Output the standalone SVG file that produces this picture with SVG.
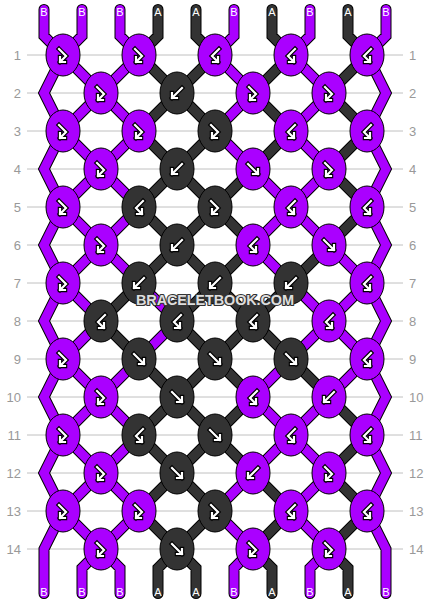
<svg xmlns="http://www.w3.org/2000/svg" xmlns:xlink="http://www.w3.org/1999/xlink" width="430" height="604" viewBox="0 0 430 604">
<style>
.rl{stroke:#c0c0c0;stroke-width:1}
.rn{font-family:"Liberation Sans",Arial,sans-serif;font-size:13px;fill:#999}
.ol{fill:none;stroke:#000;stroke-width:11;stroke-linecap:round;stroke-linejoin:miter}
.pb{fill:none;stroke:#aa00ff;stroke-width:9;stroke-linecap:round;stroke-linejoin:miter}
.pa{fill:none;stroke:#333333;stroke-width:9;stroke-linecap:round;stroke-linejoin:miter}
.kp{fill:#aa00ff;stroke:#000;stroke-width:1}
.kd{fill:#333333;stroke:#000;stroke-width:1}
.ao{fill:none;stroke:#000;stroke-width:4.5;stroke-linecap:square;stroke-linejoin:miter}
.ai{fill:none;stroke:#fff;stroke-width:2.2;stroke-linecap:square;stroke-linejoin:miter}
.sl{font-family:"Liberation Sans",Arial,sans-serif;font-size:11px;fill:#fff;text-anchor:middle}
.wm{font-family:"Liberation Sans",Arial,sans-serif;font-size:14.5px;font-weight:bold;fill:#dddddd;stroke:#333;stroke-width:2.2;paint-order:stroke;stroke-linejoin:round;text-anchor:middle}
</style>
<defs>
<g id="g-f"><path class="ao" d="M-5,-5 L5,5 M5,0 L5,5 L0,5"/><path class="ai" d="M-5,-5 L5,5 M5,0 L5,5 L0,5"/></g>
<g id="g-b"><path class="ao" d="M5,-5 L-5,5 M-5,0 L-5,5 L0,5"/><path class="ai" d="M5,-5 L-5,5 M-5,0 L-5,5 L0,5"/></g>
<g id="g-fb"><path class="ao" d="M-4,-6 L3,1 L-3,7 M-3,2 L-3,7 L2,7"/><path class="ai" d="M-4,-6 L3,1 L-3,7 M-3,2 L-3,7 L2,7"/></g>
<g id="g-bf"><path class="ao" d="M4,-6 L-3,1 L3,7 M3,2 L3,7 L-2,7"/><path class="ai" d="M4,-6 L-3,1 L3,7 M3,2 L3,7 L-2,7"/></g>
</defs>
<rect width="430" height="604" fill="#fff"/>
<g id="rows">
<line class="rl" x1="27" y1="55" x2="403" y2="55"/><line class="rl" x1="27" y1="93" x2="403" y2="93"/>
<line class="rl" x1="27" y1="131" x2="403" y2="131"/><line class="rl" x1="27" y1="169" x2="403" y2="169"/>
<line class="rl" x1="27" y1="207" x2="403" y2="207"/><line class="rl" x1="27" y1="245" x2="403" y2="245"/>
<line class="rl" x1="27" y1="283" x2="403" y2="283"/><line class="rl" x1="27" y1="321" x2="403" y2="321"/>
<line class="rl" x1="27" y1="359" x2="403" y2="359"/><line class="rl" x1="27" y1="397" x2="403" y2="397"/>
<line class="rl" x1="27" y1="435" x2="403" y2="435"/><line class="rl" x1="27" y1="473" x2="403" y2="473"/>
<line class="rl" x1="27" y1="511" x2="403" y2="511"/><line class="rl" x1="27" y1="549" x2="403" y2="549"/>
<g class="rn" text-anchor="end">
<text x="21" y="60">1</text><text x="21" y="98">2</text><text x="21" y="136">3</text><text x="21" y="174">4</text><text x="21" y="212">5</text><text x="21" y="250">6</text><text x="21" y="288">7</text><text x="21" y="326">8</text><text x="21" y="364">9</text><text x="21" y="402">10</text><text x="21" y="440">11</text><text x="21" y="478">12</text><text x="21" y="516">13</text><text x="21" y="554">14</text>
</g>
<g class="rn" text-anchor="start">
<text x="409" y="60">1</text><text x="409" y="98">2</text><text x="409" y="136">3</text><text x="409" y="174">4</text><text x="409" y="212">5</text><text x="409" y="250">6</text><text x="409" y="288">7</text><text x="409" y="326">8</text><text x="409" y="364">9</text><text x="409" y="402">10</text><text x="409" y="440">11</text><text x="409" y="478">12</text><text x="409" y="516">13</text><text x="409" y="554">14</text>
</g>
</g>
<g id="connectors">
<g class="ol"><use href="#tB"/><use href="#tA"/></g>
<g class="pb"><path id="tB" d="M44,9.5 L44,36 L63,55 L44,93 L63,131 L44,169 L63,207 L44,245 L63,283 L44,321 L63,359 L44,397 L63,435 L44,473 L63,511 L44,549 L44,593.5
M386,9.5 L386,36 L367,55 L386,93 L367,131 L386,169 L367,207 L386,245 L367,283 L386,321 L367,359 L386,397 L367,435 L386,473 L367,511 L386,549 L386,593.5
M82,9.5 L82,36 L63,55 M120,9.5 L120,36 L139,55 M234,9.5 L234,36 L215,55 M310,9.5 L310,36 L291,55
M63,55 L101,93 M139,55 L101,93 M215,55 L253,93 M291,55 L329,93
M101,93 L63,131 M101,93 L139,131 M253,93 L215,131 M329,93 L291,131
M63,131 L101,169 M139,131 L101,169 M215,131 L253,169 M291,131 L329,169
M101,169 L63,207 M101,169 L139,207 M253,169 L291,207 M329,169 L291,207
M63,207 L101,245 M139,207 L101,245 M291,207 L253,245 M291,207 L329,245
M101,245 L63,283 M101,245 L139,283 M253,245 L291,283 M329,245 L367,283
M63,283 L101,321 M139,283 L177,321 M291,283 L329,321 M367,283 L329,321
M101,321 L63,359 M177,321 L139,359 M329,321 L291,359 M329,321 L367,359
M63,359 L101,397 M139,359 L101,397 M291,359 L253,397 M367,359 L329,397
M101,397 L63,435 M101,397 L139,435 M253,397 L291,435 M329,397 L291,435
M63,435 L101,473 M139,435 L101,473 M291,435 L253,473 M291,435 L329,473
M101,473 L63,511 M101,473 L139,511 M253,473 L215,511 M329,473 L291,511
M63,511 L101,549 M139,511 L101,549 M215,511 L253,549 M291,511 L329,549
M101,549 L82,568 L82,593.5 M101,549 L120,568 L120,593.5 M253,549 L234,568 L234,593.5 M329,549 L310,568 L310,593.5"/></g>
<g class="pa"><path id="tA" d="M158,9.5 L158,36 L139,55 M196,9.5 L196,36 L215,55 M272,9.5 L272,36 L291,55 M348,9.5 L348,36 L367,55
M139,55 L177,93 M215,55 L177,93 M291,55 L253,93 M367,55 L329,93
M177,93 L139,131 M177,93 L215,131 M253,93 L291,131 M329,93 L367,131
M139,131 L177,169 M215,131 L177,169 M291,131 L253,169 M367,131 L329,169
M177,169 L139,207 M177,169 L215,207 M253,169 L215,207 M329,169 L367,207
M139,207 L177,245 M215,207 L177,245 M215,207 L253,245 M367,207 L329,245
M177,245 L139,283 M177,245 L215,283 M253,245 L215,283 M329,245 L291,283
M139,283 L101,321 M215,283 L177,321 M215,283 L253,321 M291,283 L253,321
M101,321 L139,359 M177,321 L215,359 M253,321 L215,359 M253,321 L291,359
M139,359 L177,397 M215,359 L177,397 M215,359 L253,397 M291,359 L329,397
M177,397 L139,435 M177,397 L215,435 M253,397 L215,435 M329,397 L367,435
M139,435 L177,473 M215,435 L177,473 M215,435 L253,473 M367,435 L329,473
M177,473 L139,511 M177,473 L215,511 M253,473 L291,511 M329,473 L367,511
M139,511 L177,549 M215,511 L177,549 M291,511 L253,549 M367,511 L329,549
M177,549 L158,568 L158,593.5 M177,549 L196,568 L196,593.5 M253,549 L272,568 L272,593.5 M329,549 L348,568 L348,593.5"/></g>
</g>
<g id="knots">
<g id="k1-1"><ellipse class="kp" cx="63" cy="55" rx="17" ry="21"/><use href="#g-fb" x="63" y="55"/></g>
<g id="k1-2"><ellipse class="kp" cx="139" cy="55" rx="17" ry="21"/><use href="#g-fb" x="139" y="55"/></g>
<g id="k1-3"><ellipse class="kp" cx="215" cy="55" rx="17" ry="21"/><use href="#g-bf" x="215" y="55"/></g>
<g id="k1-4"><ellipse class="kp" cx="291" cy="55" rx="17" ry="21"/><use href="#g-bf" x="291" y="55"/></g>
<g id="k1-5"><ellipse class="kp" cx="367" cy="55" rx="17" ry="21"/><use href="#g-bf" x="367" y="55"/></g>
<g id="k2-1"><ellipse class="kp" cx="101" cy="93" rx="17" ry="21"/><use href="#g-fb" x="101" y="93"/></g>
<g id="k2-2"><ellipse class="kd" cx="177" cy="93" rx="17" ry="21"/><use href="#g-b" x="177" y="93"/></g>
<g id="k2-3"><ellipse class="kp" cx="253" cy="93" rx="17" ry="21"/><use href="#g-fb" x="253" y="93"/></g>
<g id="k2-4"><ellipse class="kp" cx="329" cy="93" rx="17" ry="21"/><use href="#g-fb" x="329" y="93"/></g>
<g id="k3-1"><ellipse class="kp" cx="63" cy="131" rx="17" ry="21"/><use href="#g-fb" x="63" y="131"/></g>
<g id="k3-2"><ellipse class="kp" cx="139" cy="131" rx="17" ry="21"/><use href="#g-fb" x="139" y="131"/></g>
<g id="k3-3"><ellipse class="kd" cx="215" cy="131" rx="17" ry="21"/><use href="#g-fb" x="215" y="131"/></g>
<g id="k3-4"><ellipse class="kp" cx="291" cy="131" rx="17" ry="21"/><use href="#g-bf" x="291" y="131"/></g>
<g id="k3-5"><ellipse class="kp" cx="367" cy="131" rx="17" ry="21"/><use href="#g-bf" x="367" y="131"/></g>
<g id="k4-1"><ellipse class="kp" cx="101" cy="169" rx="17" ry="21"/><use href="#g-fb" x="101" y="169"/></g>
<g id="k4-2"><ellipse class="kd" cx="177" cy="169" rx="17" ry="21"/><use href="#g-b" x="177" y="169"/></g>
<g id="k4-3"><ellipse class="kp" cx="253" cy="169" rx="17" ry="21"/><use href="#g-f" x="253" y="169"/></g>
<g id="k4-4"><ellipse class="kp" cx="329" cy="169" rx="17" ry="21"/><use href="#g-fb" x="329" y="169"/></g>
<g id="k5-1"><ellipse class="kp" cx="63" cy="207" rx="17" ry="21"/><use href="#g-fb" x="63" y="207"/></g>
<g id="k5-2"><ellipse class="kd" cx="139" cy="207" rx="17" ry="21"/><use href="#g-bf" x="139" y="207"/></g>
<g id="k5-3"><ellipse class="kd" cx="215" cy="207" rx="17" ry="21"/><use href="#g-fb" x="215" y="207"/></g>
<g id="k5-4"><ellipse class="kp" cx="291" cy="207" rx="17" ry="21"/><use href="#g-bf" x="291" y="207"/></g>
<g id="k5-5"><ellipse class="kp" cx="367" cy="207" rx="17" ry="21"/><use href="#g-bf" x="367" y="207"/></g>
<g id="k6-1"><ellipse class="kp" cx="101" cy="245" rx="17" ry="21"/><use href="#g-fb" x="101" y="245"/></g>
<g id="k6-2"><ellipse class="kd" cx="177" cy="245" rx="17" ry="21"/><use href="#g-b" x="177" y="245"/></g>
<g id="k6-3"><ellipse class="kp" cx="253" cy="245" rx="17" ry="21"/><use href="#g-bf" x="253" y="245"/></g>
<g id="k6-4"><ellipse class="kp" cx="329" cy="245" rx="17" ry="21"/><use href="#g-f" x="329" y="245"/></g>
<g id="k7-1"><ellipse class="kp" cx="63" cy="283" rx="17" ry="21"/><use href="#g-fb" x="63" y="283"/></g>
<g id="k7-2"><ellipse class="kd" cx="139" cy="283" rx="17" ry="21"/><use href="#g-b" x="139" y="283"/></g>
<g id="k7-3"><ellipse class="kd" cx="215" cy="283" rx="17" ry="21"/><use href="#g-b" x="215" y="283"/></g>
<g id="k7-4"><ellipse class="kd" cx="291" cy="283" rx="17" ry="21"/><use href="#g-b" x="291" y="283"/></g>
<g id="k7-5"><ellipse class="kp" cx="367" cy="283" rx="17" ry="21"/><use href="#g-bf" x="367" y="283"/></g>
<g id="k8-1"><ellipse class="kd" cx="101" cy="321" rx="17" ry="21"/><use href="#g-bf" x="101" y="321"/></g>
<g id="k8-2"><ellipse class="kd" cx="177" cy="321" rx="17" ry="21"/><use href="#g-bf" x="177" y="321"/></g>
<g id="k8-3"><ellipse class="kd" cx="253" cy="321" rx="17" ry="21"/><use href="#g-bf" x="253" y="321"/></g>
<g id="k8-4"><ellipse class="kp" cx="329" cy="321" rx="17" ry="21"/><use href="#g-bf" x="329" y="321"/></g>
<g id="k9-1"><ellipse class="kp" cx="63" cy="359" rx="17" ry="21"/><use href="#g-fb" x="63" y="359"/></g>
<g id="k9-2"><ellipse class="kd" cx="139" cy="359" rx="17" ry="21"/><use href="#g-f" x="139" y="359"/></g>
<g id="k9-3"><ellipse class="kd" cx="215" cy="359" rx="17" ry="21"/><use href="#g-f" x="215" y="359"/></g>
<g id="k9-4"><ellipse class="kd" cx="291" cy="359" rx="17" ry="21"/><use href="#g-f" x="291" y="359"/></g>
<g id="k9-5"><ellipse class="kp" cx="367" cy="359" rx="17" ry="21"/><use href="#g-bf" x="367" y="359"/></g>
<g id="k10-1"><ellipse class="kp" cx="101" cy="397" rx="17" ry="21"/><use href="#g-fb" x="101" y="397"/></g>
<g id="k10-2"><ellipse class="kd" cx="177" cy="397" rx="17" ry="21"/><use href="#g-f" x="177" y="397"/></g>
<g id="k10-3"><ellipse class="kp" cx="253" cy="397" rx="17" ry="21"/><use href="#g-bf" x="253" y="397"/></g>
<g id="k10-4"><ellipse class="kp" cx="329" cy="397" rx="17" ry="21"/><use href="#g-b" x="329" y="397"/></g>
<g id="k11-1"><ellipse class="kp" cx="63" cy="435" rx="17" ry="21"/><use href="#g-fb" x="63" y="435"/></g>
<g id="k11-2"><ellipse class="kd" cx="139" cy="435" rx="17" ry="21"/><use href="#g-bf" x="139" y="435"/></g>
<g id="k11-3"><ellipse class="kd" cx="215" cy="435" rx="17" ry="21"/><use href="#g-f" x="215" y="435"/></g>
<g id="k11-4"><ellipse class="kp" cx="291" cy="435" rx="17" ry="21"/><use href="#g-bf" x="291" y="435"/></g>
<g id="k11-5"><ellipse class="kp" cx="367" cy="435" rx="17" ry="21"/><use href="#g-bf" x="367" y="435"/></g>
<g id="k12-1"><ellipse class="kp" cx="101" cy="473" rx="17" ry="21"/><use href="#g-fb" x="101" y="473"/></g>
<g id="k12-2"><ellipse class="kd" cx="177" cy="473" rx="17" ry="21"/><use href="#g-f" x="177" y="473"/></g>
<g id="k12-3"><ellipse class="kp" cx="253" cy="473" rx="17" ry="21"/><use href="#g-b" x="253" y="473"/></g>
<g id="k12-4"><ellipse class="kp" cx="329" cy="473" rx="17" ry="21"/><use href="#g-fb" x="329" y="473"/></g>
<g id="k13-1"><ellipse class="kp" cx="63" cy="511" rx="17" ry="21"/><use href="#g-fb" x="63" y="511"/></g>
<g id="k13-2"><ellipse class="kp" cx="139" cy="511" rx="17" ry="21"/><use href="#g-fb" x="139" y="511"/></g>
<g id="k13-3"><ellipse class="kd" cx="215" cy="511" rx="17" ry="21"/><use href="#g-fb" x="215" y="511"/></g>
<g id="k13-4"><ellipse class="kp" cx="291" cy="511" rx="17" ry="21"/><use href="#g-bf" x="291" y="511"/></g>
<g id="k13-5"><ellipse class="kp" cx="367" cy="511" rx="17" ry="21"/><use href="#g-bf" x="367" y="511"/></g>
<g id="k14-1"><ellipse class="kp" cx="101" cy="549" rx="17" ry="21"/><use href="#g-fb" x="101" y="549"/></g>
<g id="k14-2"><ellipse class="kd" cx="177" cy="549" rx="17" ry="21"/><use href="#g-f" x="177" y="549"/></g>
<g id="k14-3"><ellipse class="kp" cx="253" cy="549" rx="17" ry="21"/><use href="#g-fb" x="253" y="549"/></g>
<g id="k14-4"><ellipse class="kp" cx="329" cy="549" rx="17" ry="21"/><use href="#g-fb" x="329" y="549"/></g>
</g>
<g id="string-labels" class="sl">
<text x="44" y="16">B</text><text x="82" y="16">B</text><text x="120" y="16">B</text><text x="158" y="16">A</text><text x="196" y="16">A</text><text x="234" y="16">B</text><text x="272" y="16">A</text><text x="310" y="16">B</text><text x="348" y="16">A</text><text x="386" y="16">B</text>
<text x="44" y="596">B</text><text x="82" y="596">B</text><text x="120" y="596">B</text><text x="158" y="596">A</text><text x="196" y="596">A</text><text x="234" y="596">B</text><text x="272" y="596">A</text><text x="310" y="596">B</text><text x="348" y="596">A</text><text x="386" y="596">B</text>
</g>
<text class="wm" x="215" y="305" textLength="158" lengthAdjust="spacing">BRACELETBOOK.COM</text>
</svg>
